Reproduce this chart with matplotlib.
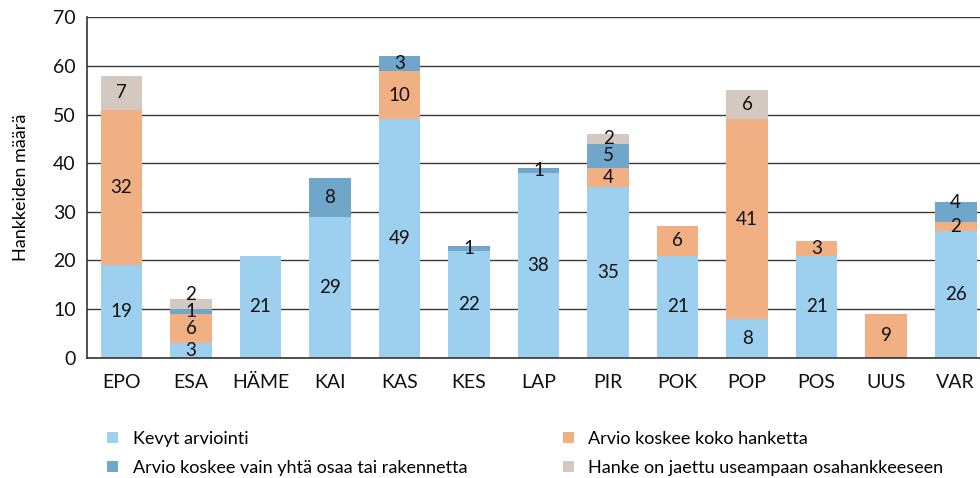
import matplotlib
matplotlib.use('Agg')
import matplotlib.pyplot as plt
import numpy as np

# data
alueet = ["EPO", "ESA", "HÄME", "KAI", "KAS", "KES", "LAP", "PIR", "POK", "POP", "POS", "UUS", "VAR"]
kevyt = [19, 3, 21, 29, 49, 22, 38, 35, 21, 8, 21, 0, 26]
koko_hanke = [32, 6, 0, 0, 10, 0, 0, 4, 6, 41, 3, 9, 2]
yksi_osa = [0, 1, 0, 8, 3, 1, 1, 5, 0, 0, 0, 0, 4]
jaettu = [7, 2, 0, 0, 0, 0, 0, 2, 0, 6, 0, 0, 0]

sarjat = ["Kevyt arviointi", "Arvio koskee koko hanketta",
          "Arvio koskee vain yhtä osaa tai rakennetta", "Hanke on jaettu useampaan osahankkeeseen"]
varit = ["#9dd0ee", "#f0b084", "#6fa6ca", "#d4c9c1"]

yticks = [0, 10, 20, 30, 40, 50, 60, 70]

plt.rcParams['font.family'] = ['Lato', 'DejaVu Sans']

fig = plt.figure(figsize=(9.8, 4.78), dpi=100)
ax = fig.add_axes([0.0885, 0.2517, 0.9115, 0.7121])

x = np.arange(len(alueet))
pohja = np.zeros(len(alueet))
kaikki = [kevyt, koko_hanke, yksi_osa, jaettu]
palkit = []
edellinen = np.full(len(alueet), -100.0)  # center of the previous label in each bar
for arvot, nimi, vari in zip(kaikki, sarjat, varit):
    arvot = np.array(arvot)
    b = ax.bar(x, arvot, width=0.6, bottom=pohja, color=vari, label=nimi, zorder=2)
    tekstit = [str(v) if v > 0 else "" for v in arvot]
    anns = ax.bar_label(b, labels=tekstit, label_type='center', fontsize=13.5, color='#111111')
    keskit = pohja + arvot / 2.0
    for i, ann in enumerate(anns):
        if arvot[i] <= 0:
            continue
        # thin segments sitting right on another label: nudge the text up a bit
        if keskit[i] - edellinen[i] < 3.5:
            ann.xyann = (0, 7)
        edellinen[i] = keskit[i]
    palkit.append(b)
    pohja = pohja + arvot

ax.set_xlim(-0.5, 12.35)
ax.set_ylim(0, 70)
ax.set_yticks(yticks)
ax.set_xticks(x)
ax.set_xticklabels(alueet)
ax.tick_params(axis='both', length=0, labelsize=14, colors='#111111')
ax.tick_params(axis='x', pad=12)
ax.tick_params(axis='y', pad=8)
ax.yaxis.grid(True, color='#3a3a3a', linewidth=1.0, zorder=0)
ax.set_axisbelow(True)
for s in ['top', 'right']:
    ax.spines[s].set_visible(False)
for s in ['left', 'bottom']:
    ax.spines[s].set_color('#333333')
    ax.spines[s].set_linewidth(1.2)
ax.set_ylabel('Hankkeiden määrä', fontsize=13, labelpad=17)

# legend: two columns, order so rows read as in the reference
jarj = [0, 2, 1, 3]
fig.legend([palkit[i] for i in jarj], [sarjat[i] for i in jarj], ncol=2,
           loc='lower left', bbox_to_anchor=(0.093, -0.03), frameon=False,
           fontsize=13, handlelength=0.6, handleheight=0.6, handletextpad=0.8,
           columnspacing=5.3, labelspacing=0.72)

fig.savefig("out.png", dpi=100)
